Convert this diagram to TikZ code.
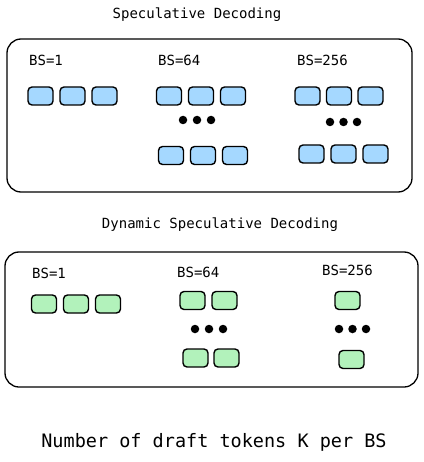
\documentclass[tikz,border=0pt]{standalone}
\usepackage{fontspec}
\setmonofont{DejaVu Sans Mono}
\usetikzlibrary{positioning}
\definecolor{tokblue}{HTML}{A5D8FF}
\definecolor{tokgreen}{HTML}{B2F2BB}

\begin{document}
\begin{tikzpicture}[
  x=1pt, y=-1pt,
  font=\ttfamily\fontsize{14}{16}\selectfont,
  frame/.style={draw, rounded corners=14pt, line width=1.3pt},
  tokb/.style={draw, rounded corners=4pt, minimum width=25pt,
               minimum height=18pt, inner sep=0pt, fill=tokblue, line width=1.4pt},
  tokg/.style={tokb, fill=tokgreen},
  dotn/.style={circle, fill=black, inner sep=0pt, minimum size=8.5pt},
  bs/.style={anchor=west, inner sep=0pt}
]
\useasboundingbox (0,0) rectangle (423,462);

%% ---- ARRIBA: speculative decoding ----
\node (spectitle) at (197,15) {Speculative Decoding};
\node[frame, minimum width=405pt, minimum height=153pt] (specframe) at (209.5,115.5) {};

\node[bs] (s1lbl)   at (29,60)  {BS=1};
\node[bs] (s64lbl)  at (158,60) {BS=64};
\node[bs] (s256lbl) at (297,60) {BS=256};

\foreach \i in {0,1,2} {
  \node[tokb] (s1t\i)    at (40.5+32*\i, 96)   {};
  \node[tokb] (s64a\i)   at (169+32*\i, 96)    {};
  \node[tokb] (s64b\i)   at (171+32*\i, 155.5) {};
  \node[dotn] (s64d\i)   at (183+14*\i, 120)   {};
  \node[tokb] (s256a\i)  at (307.5+31.5*\i, 96) {};
  \node[tokb] (s256b\i)  at (311.5+32*\i, 154)  {};
  \node[dotn] (s256d\i)  at (330+13.5*\i, 122)  {};
}

%% ---- ABAJO: dynamic speculative decoding ----
\node (dyntitle) at (220,225) {Dynamic Speculative Decoding};
\node[frame, minimum width=413pt, minimum height=135pt] (dynframe) at (211.5,319.5) {};

\node[bs] (d1lbl)   at (32,273)  {BS=1};
\node[bs] (d64lbl)  at (177,272) {BS=64};
\node[bs] (d256lbl) at (322,270) {BS=256};

\foreach \i in {0,1,2} {
  \node[tokg] (d1t\i)   at (44+32*\i, 304) {};
  \node[dotn] (d64d\i)  at (195+14*\i, 329) {};
  \node[dotn] (d256d\i) at (339+13.5*\i, 329) {};
}
\foreach \i in {0,1} {
  \node[tokg] (d64a\i) at (192.5+32*\i, 300.5) {};
  \node[tokg] (d64b\i) at (195.5+31*\i, 358)   {};
}
\node[tokg] (d256a) at (347.5,300.5) {};
\node[tokg] (d256b) at (351.5,359.5) {};

%% ---- pie ----
\node[font=\ttfamily\fontsize{18.5}{22}\selectfont] (caption) at (214,442)
  {Number of draft tokens K per BS};

\end{tikzpicture}
\end{document}
